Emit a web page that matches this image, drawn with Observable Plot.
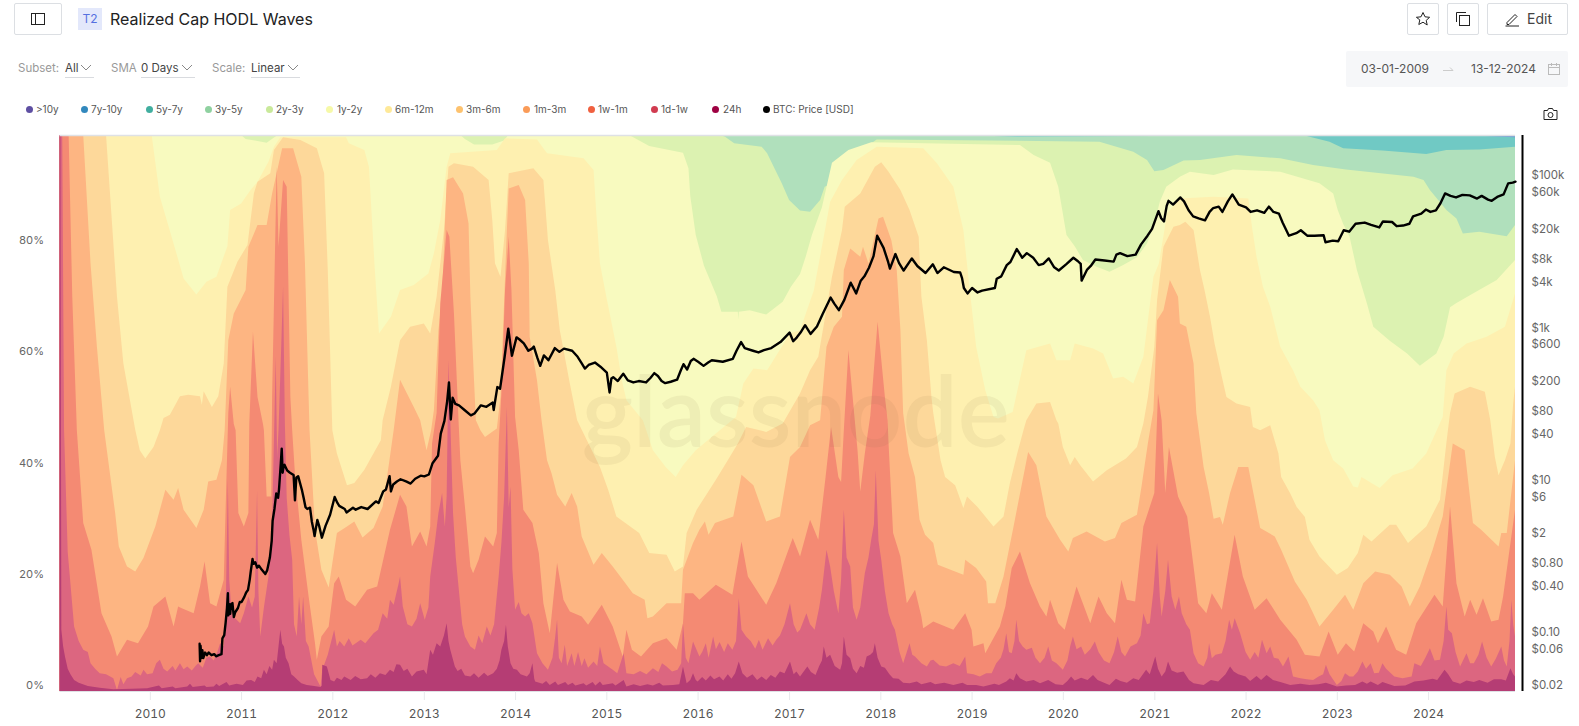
<!DOCTYPE html>
<html><head><meta charset="utf-8">
<script src="https://cdn.jsdelivr.net/npm/d3@7"></script>
<script src="https://cdn.jsdelivr.net/npm/@observablehq/plot@0.6"></script>
<style>
html,body{margin:0;padding:0;background:#fff;font-family:Inter,"Noto Sans",sans-serif;color:#333}
#page{position:relative;width:1579px;height:726px;overflow:hidden}
.abs{position:absolute;white-space:nowrap}
.btn{position:absolute;border:1px solid #dcdfe3;border-radius:2px;box-sizing:border-box;background:#fff}
.lg{position:absolute;top:103px;font-size:10px;line-height:12px;color:#555}
.dot{position:absolute;top:105.5px;width:7px;height:7px;border-radius:50%}
.f{position:absolute;top:60px;font-size:11.5px;line-height:16px}
.ul{position:absolute;top:77px;height:1px;background:#d9dbdf}
.layer{position:absolute;left:0;top:120px;width:1579px;height:606px}
.layer svg{position:absolute;left:0;top:0;background:none;max-width:none}
</style></head><body>
<div id="page">
  <div class="btn" style="left:14px;top:3px;width:48px;height:32px"></div>
  <svg class="abs" style="left:31px;top:12px" width="14" height="14" fill="none" stroke="#222"><rect x="0.5" y="1.5" width="13" height="11"/><path d="M4.5 1.5v11"/></svg>
  <div class="abs" style="left:78px;top:8px;width:24px;height:22px;background:#e3e8fb;color:#5570e0;font-size:12px;line-height:22px;text-align:center">T2</div>
  <div class="abs" style="left:110px;top:8px;font-size:16px;line-height:22px;color:#222">Realized Cap HODL Waves</div>
  <div class="btn" style="left:1407px;top:3px;width:32px;height:32px"></div>
  <svg class="abs" style="left:1415px;top:11px" width="16" height="16" fill="none" stroke="#222"><path d="M8 1.5l2 4.3 4.6.5-3.4 3.1 1 4.6L8 11.2l-4.200 2.300 1-4.600L1.400 6.300l4.600-.5z"/></svg>
  <div class="btn" style="left:1447px;top:3px;width:32px;height:32px"></div>
  <svg class="abs" style="left:1455px;top:11px" width="16" height="16" fill="none" stroke="#222"><rect x="4.500" y="4.500" width="10" height="10"/><path d="M1.500 11V1.500H11"/></svg>
  <div class="btn" style="left:1487px;top:3px;width:81px;height:32px"></div>
  <svg class="abs" style="left:1504px;top:11px" width="16" height="16" fill="none" stroke="#222"><path d="M3 11.500L11 3.500l2 2-8 8H3zM1.500 15H15"/></svg>
  <div class="abs" style="left:1527px;top:10px;font-size:14px;line-height:18px;color:#444">Edit</div>

  <div class="f" style="left:18px;color:#999">Subset:</div><div class="f" style="left:65px;color:#444">All</div>
  <div class="f" style="left:111px;color:#999">SMA</div><div class="f" style="left:141px;color:#444">0 Days</div>
  <div class="f" style="left:212px;color:#999">Scale:</div><div class="f" style="left:251px;color:#444">Linear</div>
  <div class="ul" style="left:65px;width:29px"></div><div class="ul" style="left:141px;width:54px"></div><div class="ul" style="left:251px;width:49px"></div>
  <svg class="abs" style="left:0;top:62px" width="310" height="12" fill="none" stroke="#888"><path d="M81 3l5 5 5-5M182 3l5 5 5-5M288 3l5 5 5-5"/></svg>

  <div class="abs" style="left:1346px;top:51px;width:222px;height:36px;background:#f6f7f9;border-radius:2px"></div>
  <div class="abs" style="left:1361px;top:61px;font-size:12px;line-height:16px;color:#555">03-01-2009</div>
  <div class="abs" style="left:1471px;top:61px;font-size:12px;line-height:16px;color:#555">13-12-2024</div>
  <svg class="abs" style="left:1437px;top:64px" width="40" height="10" fill="none" stroke="#ccc"><path d="M6 6.500h10l-3-3"/></svg>
  <svg class="abs" style="left:1547px;top:62px" width="14" height="14" fill="none" stroke="#bbb"><rect x="1.500" y="2.500" width="11" height="10"/><path d="M1.500 5.500h11M4.500 1v3M9.500 1v3"/></svg>
  <svg class="abs" style="left:1543px;top:107px" width="15" height="14" fill="none" stroke="#222"><path d="M1 3.500h3.500l1-2h4l1 2H14v9H1z"/><circle cx="7.500" cy="8" r="2.500"/></svg>

  <div id="legend"></div>
  <div id="chart" class="layer"></div>
  <div id="price" class="layer"></div>
</div>
<script>
// ---------- legend ----------
const seriesNames = [">10y","7y-10y","5y-7y","3y-5y","2y-3y","1y-2y","6m-12m","3m-6m","1m-3m","1w-1m","1d-1w","24h","BTC: Price [USD]"];
const legendColors = ["#5e4fa2","#3288bd","#41ae9f","#8fd1a0","#c9e99a","#f6f9a8","#fee999","#fdc26e","#fa9b58","#f0603f","#d13b50","#9e0142","#000000"];
const bandFills = ["#7c6fb6","#6b97d0","#70c9c4","#b0e0bc","#dcf2b1","#f8fabf","#fef0b0","#fdd89a","#fdb582","#f48a73","#dc6680","#b53d74"];

// ---------- cumulative share of realized cap at the top of each band: year, percent ----------
const top10yPlus = [2009.01,100, 2024.95,100];
const top7y10y = [2009.01,100, 2024.6,100, 2024.95,99.9];
const top5y7y = [2009.01,100, 2024.4,100, 2024.5,99.9, 2024.95,99.6];
const top3y5y = [2009.01,100, 2018.9,100, 2019.5,99.7, 2021,99.8, 2022.67,99.8, 2022.92,98.8, 2023.07,97.6, 2023.5,97.2, 2023.98,96.6, 2024.2,97.3, 2024.56,97.4, 2024.95,97.9];
const top2y3y = [2009.01,100, 2016.25,100, 2016.3,99.7, 2016.4,98.5, 2016.7,97.9, 2016.76,96.7, 2016.92,91.3, 2017,88.3, 2017.12,86.4, 2017.23,86.2, 2017.34,88.3, 2017.39,90.7, 2017.56,91.9, 2017.6,94.3, 2017.74,96.7, 2017.96,99.2, 2020.4,98.8, 2020.77,97, 2020.92,95.5, 2021,93.5, 2021.1,93.7, 2021.32,95.4, 2021.5,95.5, 2021.9,96.4, 2022.38,95.8, 2022.74,94.6, 2023.1,93.8, 2023.84,92.5, 2023.95,91.9, 2024.02,90.1, 2024.11,88.3, 2024.2,86.5, 2024.31,85, 2024.38,82.3, 2024.56,82.6, 2024.86,81.8, 2024.95,83.8];
const top1y2y = [2009.01,100, 2011,100, 2011.05,99.3, 2011.15,99, 2011.28,98.6, 2011.33,99.2, 2011.4,100, 2013.4,100, 2013.45,99.3, 2013.55,98.3, 2013.75,98.3, 2013.88,99, 2013.92,99.9, 2015.25,100, 2015.47,98, 2015.84,96.8, 2015.9,94, 2015.92,89, 2015.98,82, 2016.07,76.5, 2016.21,71, 2016.26,68.2, 2016.44,68.2, 2016.445,66.8, 2016.45,68.2, 2016.57,68.5, 2016.75,67.7, 2016.93,70, 2017.02,72.7, 2017.12,75, 2017.18,78, 2017.25,82, 2017.36,87, 2017.47,95, 2017.65,97.3, 2017.9,98.7, 2019.53,98.2, 2019.68,96.4, 2019.86,95, 2019.95,90.7, 2020,85.9, 2020.04,82, 2020.13,80, 2020.22,77.5, 2020.37,76.3, 2020.51,75.4, 2020.66,76.6, 2020.81,78, 2020.92,80.5, 2021,84, 2021.06,88, 2021.13,90.7, 2021.28,92.5, 2021.39,93.4, 2021.65,92.8, 2021.86,93.8, 2022.38,93.4, 2022.81,91.3, 2022.96,89.5, 2023.01,86.5, 2023.07,84, 2023.14,81.7, 2023.22,75.7, 2023.33,69.7, 2023.4,65.5, 2023.58,63, 2023.77,60.7, 2023.91,58.5, 2024.09,60.7, 2024.17,63.7, 2024.24,69, 2024.31,69.8, 2024.49,71.5, 2024.75,73.9, 2024.95,77.5];
const top6m12m = [2009.01,100, 2010.02,100, 2010.11,88.9, 2010.26,80.5, 2010.37,74.2, 2010.51,71.3, 2010.62,73.6, 2010.73,74.5, 2010.85,80, 2010.88,86.5, 2011,87.7, 2011.1,90, 2011.18,91.6, 2011.3,95.2, 2011.36,97.9, 2011.43,99.6, 2012.15,99.6, 2012.18,98.5, 2012.35,97.3, 2012.4,94.3, 2012.46,76.9, 2012.51,64.3, 2012.64,67.3, 2012.74,72.1, 2012.89,73, 2013.05,75.1, 2013.11,78.7, 2013.18,84.7, 2013.25,94.3, 2013.29,96.7, 2013.8,97.3, 2013.89,99.4, 2014.24,99.2, 2014.35,96.7, 2014.75,95.8, 2014.86,93.7, 2014.89,85.9, 2014.93,76.9, 2015,70.9, 2015.11,61.9, 2015.17,55.9, 2015.22,52.3, 2015.4,48.7, 2015.51,43.3, 2015.65,40.3, 2015.76,38.5, 2015.84,40.6, 2015.98,43.3, 2016.2,46.3, 2016.42,49.3, 2016.5,55.3, 2016.61,58, 2016.76,57.7, 2017.01,64.3, 2017.12,64.9, 2017.27,72, 2017.38,81.7, 2017.45,88, 2017.58,91.9, 2017.74,95.5, 2017.96,97.9, 2018.47,97.6, 2018.62,94.9, 2018.8,90.7, 2018.91,82.9, 2018.98,72.1, 2019.05,61.9, 2019.15,54.1, 2019.24,49.3, 2019.29,49, 2019.45,50.2, 2019.6,61.3, 2019.86,62.5, 2019.93,59.5, 2020.08,59.5, 2020.13,62.5, 2020.33,61.6, 2020.44,60.7, 2020.55,56.2, 2020.66,56.5, 2020.77,55.3, 2020.88,60.1, 2020.99,74.5, 2021.05,76.9, 2021.14,85.9, 2021.28,88.6, 2021.65,88.9, 2022.03,88.6, 2022.07,83.5, 2022.12,78.1, 2022.19,72.7, 2022.27,69.1, 2022.38,61.9, 2022.52,57.7, 2022.6,54.7, 2022.74,52.3, 2022.81,50.5, 2022.87,45.1, 2022.96,41.5, 2023.07,40, 2023.18,36.8, 2023.23,36.6, 2023.27,38.5, 2023.47,36.5, 2023.61,38.8, 2023.83,40, 2023.98,42.7, 2024.16,49.3, 2024.2,57.7, 2024.28,60.7, 2024.42,62.5, 2024.64,63.7, 2024.84,65.5, 2024.95,71.5];
const top3m6m = [2009.01,100, 2009.52,100, 2009.64,70.9, 2009.71,58.9, 2009.84,47, 2009.89,43.3, 2009.95,41.8, 2010.04,43.9, 2010.11,46.9, 2010.15,49.1, 2010.22,49.7, 2010.33,53, 2010.42,53.3, 2010.55,53, 2010.57,51.5, 2010.59,53.9, 2010.68,51.1, 2010.75,53, 2010.81,58.9, 2010.85,72.7, 2010.96,77.2, 2011.07,80.2, 2011.14,89.5, 2011.18,91.6, 2011.32,93.1, 2011.36,97.3, 2011.46,99.6, 2011.65,99.1, 2011.83,97.6, 2011.91,93.1, 2011.95,75.7, 2012,46.9, 2012.05,42.7, 2012.16,37, 2012.24,37.4, 2012.35,39.8, 2012.53,45.1, 2012.55,48.7, 2012.64,54.7, 2012.74,63.1, 2012.85,65.5, 2013,66.1, 2013.07,64.3, 2013.14,70.9, 2013.22,82.9, 2013.27,94.3, 2013.33,94.9, 2013.54,94.3, 2013.71,91.9, 2013.75,84.7, 2013.78,76.9, 2013.84,74.5, 2013.89,82.9, 2013.93,93.1, 2014.2,94, 2014.31,91.9, 2014.36,81.1, 2014.44,72.1, 2014.49,64.9, 2014.6,55.3, 2014.68,48.7, 2014.93,40.3, 2015.02,36.2, 2015.11,31.4, 2015.36,28.4, 2015.47,24.8, 2015.66,24.5, 2015.75,21.5, 2015.84,22.4, 2015.88,28.4, 2015.99,32.6, 2016.2,38, 2016.33,41.5, 2016.44,44.5, 2016.53,47.5, 2016.75,46.6, 2016.93,48.1, 2017.12,53.5, 2017.23,57.7, 2017.32,60.1, 2017.47,74.5, 2017.58,82.9, 2017.61,87.1, 2017.78,89.5, 2017.94,94.3, 2018.01,95.1, 2018.09,93.4, 2018.22,90.1, 2018.32,86.5, 2018.42,81.7, 2018.45,70.9, 2018.51,63.1, 2018.56,52.9, 2018.58,50, 2018.66,41.5, 2018.71,38.5, 2018.82,37, 2018.91,32.9, 2018.95,35, 2019.06,33.2, 2019.24,29.6, 2019.35,31.4, 2019.42,37.4, 2019.5,42.7, 2019.57,47, 2019.6,48.7, 2019.71,51.7, 2019.86,52, 2019.93,48.7, 2019.95,48.1, 2020,43.9, 2020.08,40.6, 2020.13,42.1, 2020.19,40.6, 2020.33,37.7, 2020.48,39.7, 2020.69,41.8, 2020.81,43.9, 2020.88,48.1, 2020.93,52.9, 2021,61.9, 2021.03,70.3, 2021.1,79.9, 2021.21,83.5, 2021.28,83.8, 2021.34,84.4, 2021.43,82.9, 2021.5,75.7, 2021.55,72.1, 2021.61,67.3, 2021.66,62.5, 2021.74,56.5, 2021.79,52.9, 2021.9,51.7, 2022.05,51.1, 2022.08,47.5, 2022.16,46.9, 2022.27,47.8, 2022.36,42.7, 2022.39,38.5, 2022.49,35.5, 2022.56,33.1, 2022.65,31.3, 2022.7,27.2, 2022.81,24.2, 2023,20.9, 2023.12,22.1, 2023.23,24.8, 2023.29,28.1, 2023.38,26.9, 2023.58,29.9, 2023.65,29.9, 2023.78,26.6, 2023.98,29.6, 2024.13,34.4, 2024.2,44.6, 2024.24,50, 2024.29,53.5, 2024.46,54.7, 2024.62,53.8, 2024.68,48.7, 2024.73,42.1, 2024.77,38.8, 2024.84,41.5, 2024.9,44.5, 2024.93,51.7, 2024.95,54.7];
const top1m3m = [2009.01,100, 2009.27,100, 2009.35,76.9, 2009.42,61.9, 2009.5,46.9, 2009.62,32, 2009.66,26, 2009.75,22.4, 2009.84,21.5, 2009.93,23.9, 2010.06,29.6, 2010.17,36.2, 2010.26,34.4, 2010.31,36.5, 2010.37,32.6, 2010.51,29.3, 2010.59,32.6, 2010.64,37.7, 2010.73,38, 2010.79,41.5, 2010.82,46.9, 2010.86,63.1, 2010.92,67.9, 2011.05,72.1, 2011.08,79.9, 2011.18,83.8, 2011.28,83.8, 2011.34,89.5, 2011.45,97.6, 2011.57,97.6, 2011.66,92.5, 2011.7,76.9, 2011.74,52.9, 2011.75,47, 2011.81,29, 2011.88,21.8, 2011.96,18.6, 2012.05,28.4, 2012.16,29.6, 2012.24,30.5, 2012.33,27.6, 2012.45,29.3, 2012.55,33.2, 2012.62,41, 2012.67,46.9, 2012.74,56, 2012.89,51.1, 2012.96,48.7, 2013.03,43.3, 2013.08,46.9, 2013.11,50.5, 2013.16,64.9, 2013.2,70.9, 2013.25,91.9, 2013.32,92.4, 2013.43,89.5, 2013.49,84.1, 2013.51,70.9, 2013.55,55.9, 2013.57,48.7, 2013.62,46.9, 2013.67,45.7, 2013.8,47.2, 2013.84,53, 2013.91,82.9, 2013.93,90.4, 2014.04,91, 2014.11,88.3, 2014.15,76.9, 2014.16,63.7, 2014.24,55.9, 2014.29,48.7, 2014.35,41.5, 2014.4,39.1, 2014.46,35.3, 2014.55,33.2, 2014.62,35.6, 2014.68,33.2, 2014.73,27.8, 2014.86,22.7, 2014.95,24.8, 2015.07,22.4, 2015.18,20, 2015.29,17.6, 2015.42,16.4, 2015.45,13.1, 2015.51,13.4, 2015.66,15.8, 2015.82,15.8, 2015.84,21.8, 2015.95,26.6, 2016.02,29, 2016.08,30.5, 2016.12,28.1, 2016.19,30.2, 2016.39,31.4, 2016.48,38.9, 2016.61,37, 2016.75,30.5, 2016.9,31.4, 2017.01,42.1, 2017.12,43.9, 2017.23,47.8, 2017.34,48.7, 2017.41,61.9, 2017.49,65.5, 2017.58,67.3, 2017.6,75.7, 2017.67,79.6, 2017.78,78.1, 2017.81,79.9, 2017.87,76.9, 2017.98,85, 2018.03,85.3, 2018.12,81.1, 2018.18,75.7, 2018.22,64.9, 2018.25,50, 2018.31,42.7, 2018.38,38.5, 2018.43,30.8, 2018.49,28.1, 2018.58,26.6, 2018.63,22.7, 2018.91,20.9, 2018.93,23.6, 2019.05,22.1, 2019.16,19.7, 2019.18,15.8, 2019.26,15.8, 2019.35,20.6, 2019.46,29.6, 2019.62,43, 2019.71,40.6, 2019.82,31.4, 2019.97,27.2, 2020.06,25.1, 2020.11,27.5, 2020.26,28.7, 2020.46,26.9, 2020.57,27.5, 2020.64,30.2, 2020.81,31.7, 2020.86,36.8, 2020.93,44.6, 2020.99,50.5, 2021.03,66.7, 2021.1,68.5, 2021.17,73.9, 2021.26,70.9, 2021.28,66.1, 2021.35,65.5, 2021.43,58.9, 2021.46,50, 2021.54,40.3, 2021.6,35.6, 2021.65,31, 2021.72,31.3, 2021.75,29.9, 2021.83,35.6, 2021.92,40.3, 2022.03,40.3, 2022.16,29.3, 2022.32,27.8, 2022.39,25.4, 2022.54,19.7, 2022.67,16.4, 2022.81,11.6, 2022.96,14.6, 2023.09,17.3, 2023.18,14.6, 2023.29,19.4, 2023.42,21.5, 2023.58,20.9, 2023.71,18.8, 2023.8,15.2, 2023.91,18.8, 2024.05,25.4, 2024.16,31.4, 2024.27,44.5, 2024.4,43.3, 2024.49,30.2, 2024.58,29, 2024.77,26, 2024.8,28.4, 2024.86,28.4, 2024.95,41.5];
const top1w1m = [2009.01,100, 2009.11,100, 2009.15,70.9, 2009.2,46.9, 2009.27,30.2, 2009.36,25.4, 2009.47,14, 2009.58,9.8, 2009.64,6.2, 2009.75,9.2, 2009.87,8.6, 2009.98,11.6, 2010.04,15.2, 2010.17,17, 2010.26,11.6, 2010.31,15.2, 2010.35,14.9, 2010.48,14, 2010.55,18.8, 2010.6,23.3, 2010.66,15.8, 2010.73,15.2, 2010.81,20, 2010.84,38.5, 2010.86,50, 2010.88,54.7, 2010.92,48, 2010.94,46.9, 2010.97,32, 2011.03,29.6, 2011.08,32, 2011.09,48, 2011.13,64.6, 2011.18,52.9, 2011.24,48, 2011.25,46.9, 2011.28,35, 2011.33,35, 2011.34,53, 2011.39,94.3, 2011.41,79.9, 2011.46,91.9, 2011.5,90.7, 2011.54,52.9, 2011.56,46.9, 2011.59,39.1, 2011.66,27.2, 2011.74,17, 2011.81,8.6, 2011.83,5.6, 2011.88,9.8, 2011.96,11.6, 2012.02,19.4, 2012.07,20.6, 2012.15,16.4, 2012.25,15.2, 2012.38,18.2, 2012.49,18.8, 2012.63,29, 2012.74,35.3, 2012.81,33.2, 2012.87,26, 2012.96,28.7, 2013.03,26, 2013.07,29.6, 2013.09,44.5, 2013.14,50, 2013.18,69.7, 2013.25,82.9, 2013.28,81.7, 2013.33,67.9, 2013.38,48.7, 2013.4,41.5, 2013.45,33.2, 2013.51,22.4, 2013.54,21.2, 2013.6,23.6, 2013.67,27.8, 2013.76,26, 2013.8,28.4, 2013.82,44.5, 2013.85,53.5, 2013.89,72.1, 2013.93,81.7, 2013.96,72.1, 2014,49.3, 2014.04,43.3, 2014.09,32.6, 2014.19,30.2, 2014.26,24.8, 2014.31,15.8, 2014.38,10.4, 2014.46,23, 2014.53,16.4, 2014.6,14.3, 2014.73,13.4, 2014.8,11.9, 2014.95,15.5, 2015.07,11.6, 2015.18,6.2, 2015.22,11, 2015.28,7.4, 2015.38,6.2, 2015.51,8.6, 2015.66,9.5, 2015.77,7.4, 2015.84,12.2, 2015.86,17.6, 2015.95,17.6, 2016.02,16.4, 2016.2,19.1, 2016.38,17.3, 2016.48,26.9, 2016.55,20.6, 2016.75,15.5, 2016.86,19.4, 2017.04,27.5, 2017.12,24.2, 2017.23,30.8, 2017.32,27.2, 2017.4,38.5, 2017.46,47.5, 2017.54,38.5, 2017.57,37.6, 2017.6,46.9, 2017.65,61.3, 2017.72,48.7, 2017.75,43.3, 2017.78,35.9, 2017.83,42.7, 2017.89,49.5, 2017.97,66.4, 2018.05,52.9, 2018.08,48.7, 2018.09,44.5, 2018.14,28.4, 2018.22,24.2, 2018.29,15.8, 2018.38,18.2, 2018.45,13.4, 2018.47,11.3, 2018.58,12.5, 2018.8,11, 2018.93,14, 2019,11, 2019.02,8, 2019.13,8.6, 2019.15,6.8, 2019.22,8.9, 2019.31,11.6, 2019.37,15.2, 2019.44,22.1, 2019.53,25.1, 2019.64,19.4, 2019.75,15.2, 2019.82,13.4, 2019.86,16.4, 2019.95,12.2, 2020.02,11, 2020.15,18.8, 2020.3,12.2, 2020.39,17, 2020.48,14, 2020.57,12.2, 2020.64,20, 2020.7,16.4, 2020.79,16.1, 2020.88,29.6, 2021,35.6, 2021.04,53.5, 2021.08,48.7, 2021.12,35.6, 2021.16,43.9, 2021.26,35, 2021.36,31.4, 2021.43,22.4, 2021.48,15.8, 2021.57,14, 2021.63,17.6, 2021.74,14.6, 2021.88,28.1, 2021.97,20.6, 2022.1,14.6, 2022.23,16.7, 2022.38,12.8, 2022.56,9.2, 2022.65,6.5, 2022.81,6.2, 2022.91,10.7, 2023.01,6.5, 2023.1,8.6, 2023.19,7.1, 2023.29,12.2, 2023.4,10.7, 2023.45,8.6, 2023.54,11.6, 2023.65,7.4, 2023.76,6.5, 2023.87,12.2, 2024.07,17.3, 2024.16,15.2, 2024.24,33.2, 2024.31,19.4, 2024.4,13.4, 2024.46,16.4, 2024.53,13.7, 2024.6,16.7, 2024.69,12.5, 2024.77,12.8, 2024.82,17, 2024.95,32.6];
const top1d1w = [2009.01,100, 2009.04,100, 2009.06,46.9, 2009.1,25, 2009.17,11.6, 2009.22,9, 2009.27,7.4, 2009.32,7, 2009.35,5, 2009.4,4, 2009.45,3.2, 2009.52,3, 2009.6,2.3, 2009.64,0.2, 2009.68,2.5, 2009.71,1.2, 2009.75,2.3, 2009.8,2.6, 2009.84,3.4, 2009.9,2.8, 2009.93,3.8, 2009.97,3, 2010.03,3.2, 2010.07,5, 2010.11,5.6, 2010.15,4, 2010.19,3.5, 2010.25,4.5, 2010.28,3.7, 2010.33,5, 2010.37,3.9, 2010.41,4.4, 2010.46,3.7, 2010.5,4.5, 2010.53,5, 2010.58,4.2, 2010.62,6, 2010.66,6.2, 2010.7,5.5, 2010.74,7, 2010.77,8.6, 2010.81,8, 2010.83,13, 2010.855,38, 2010.87,20, 2010.9,13.4, 2010.94,13, 2010.99,12.2, 2011.03,14, 2011.08,17, 2011.12,15, 2011.15,17, 2011.175,36, 2011.19,18, 2011.21,9.8, 2011.25,15, 2011.3,20.6, 2011.34,30.2, 2011.38,60.1, 2011.395,42, 2011.41,46.9, 2011.44,62, 2011.46,72.7, 2011.48,48, 2011.5,34.7, 2011.53,28, 2011.56,23.6, 2011.58,12, 2011.61,9.8, 2011.635,17, 2011.66,12, 2011.68,17, 2011.71,9, 2011.74,8, 2011.8,3, 2011.87,0.8, 2011.89,3.8, 2011.95,6.5, 2012.02,11, 2012.05,8, 2012.08,9, 2012.13,8, 2012.18,9.5, 2012.22,8.2, 2012.31,9.2, 2012.36,8.6, 2012.45,10.4, 2012.5,11, 2012.55,14, 2012.6,13, 2012.63,16.4, 2012.67,15.5, 2012.72,19, 2012.74,20.6, 2012.77,15.2, 2012.82,12, 2012.87,11.6, 2012.92,13, 2012.96,15.8, 2013.01,12.8, 2013.05,15, 2013.07,20.6, 2013.12,26.6, 2013.16,32, 2013.2,35.6, 2013.23,29.6, 2013.25,35, 2013.27,59.5, 2013.29,48.7, 2013.32,32, 2013.35,24, 2013.38,18.8, 2013.42,12, 2013.45,9.8, 2013.51,8, 2013.56,7.4, 2013.6,10, 2013.64,8.6, 2013.69,11.6, 2013.73,10, 2013.77,12, 2013.82,20.6, 2013.85,26.6, 2013.88,35, 2013.91,51.1, 2013.93,33, 2013.95,36.8, 2013.97,22, 2014,14.6, 2014.04,16, 2014.07,14, 2014.11,13.4, 2014.15,14, 2014.19,12.2, 2014.24,6.8, 2014.3,5, 2014.36,3.8, 2014.41,6, 2014.44,9.8, 2014.46,12.8, 2014.48,6, 2014.51,5, 2014.545,8.3, 2014.57,4.5, 2014.62,6.8, 2014.65,4.5, 2014.69,7, 2014.73,4.5, 2014.76,5.9, 2014.8,4.2, 2014.86,5.3, 2014.9,4.5, 2014.93,8, 2014.97,5, 2015.02,4.4, 2015.07,3.8, 2015.12,3.2, 2015.19,6.8, 2015.22,3.2, 2015.3,3, 2015.37,3.6, 2015.44,3, 2015.51,4.1, 2015.57,3.4, 2015.61,5, 2015.66,4.4, 2015.72,3.5, 2015.78,3.8, 2015.82,5, 2015.84,12.2, 2015.87,6, 2015.9,5, 2015.95,8.9, 2016.02,6.2, 2016.05,7, 2016.09,8.6, 2016.12,6, 2016.17,9.8, 2016.2,7.5, 2016.24,8.8, 2016.29,7, 2016.33,8.6, 2016.38,7.4, 2016.42,9, 2016.45,16.7, 2016.48,11, 2016.53,9.8, 2016.58,9, 2016.63,7.6, 2016.67,9.2, 2016.71,7.4, 2016.77,9.5, 2016.82,8.2, 2016.86,9.2, 2016.9,10, 2016.95,12, 2017.01,15.8, 2017.05,12, 2017.09,10.5, 2017.12,11, 2017.19,14, 2017.23,12, 2017.28,11, 2017.33,15, 2017.36,18.2, 2017.41,25.4, 2017.45,22.4, 2017.49,18, 2017.54,14, 2017.57,20, 2017.6,32.6, 2017.63,24, 2017.67,22.4, 2017.7,15, 2017.74,12.8, 2017.78,15, 2017.83,21.2, 2017.87,24, 2017.9,27.2, 2017.93,30, 2017.95,39.7, 2017.98,27, 2018.01,23.6, 2018.05,18, 2018.09,14, 2018.13,12, 2018.16,11, 2018.21,7, 2018.25,5, 2018.29,7, 2018.32,8.6, 2018.35,6.5, 2018.38,6.2, 2018.45,5, 2018.51,4.4, 2018.55,5.5, 2018.58,5.6, 2018.65,4.6, 2018.72,4.4, 2018.8,5, 2018.87,4.5, 2018.93,6.2, 2018.95,3.2, 2019.02,3, 2019.09,2.6, 2019.16,3.2, 2019.22,3.2, 2019.27,5, 2019.32,6, 2019.35,7.5, 2019.38,10.4, 2019.41,7, 2019.44,6.8, 2019.47,9, 2019.49,12.8, 2019.52,9, 2019.56,8, 2019.6,7.4, 2019.66,7.8, 2019.7,6, 2019.75,5, 2019.8,6, 2019.84,8, 2019.88,5.5, 2019.93,5, 2020,3.8, 2020.05,5.5, 2020.08,8, 2020.11,9.8, 2020.15,7.5, 2020.2,8, 2020.24,6.5, 2020.3,7.5, 2020.35,8.9, 2020.39,7, 2020.45,5.5, 2020.51,5, 2020.56,7, 2020.6,9.8, 2020.64,7, 2020.68,6.2, 2020.74,8, 2020.81,8.6, 2020.85,10, 2020.88,14, 2020.92,12, 2020.95,12.2, 2020.99,18, 2021.03,26.6, 2021.06,17, 2021.08,13.4, 2021.12,18, 2021.15,23.6, 2021.19,17, 2021.23,14.6, 2021.27,17, 2021.3,14, 2021.35,12, 2021.39,11, 2021.43,6.8, 2021.48,5, 2021.54,4.4, 2021.58,6, 2021.6,8.6, 2021.63,5.9, 2021.67,6.5, 2021.74,6.8, 2021.78,9, 2021.82,12.8, 2021.85,11, 2021.88,13.1, 2021.94,10.4, 2022,7, 2022.05,5.6, 2022.1,7, 2022.14,6, 2022.18,9.2, 2022.23,6.8, 2022.27,8, 2022.31,6, 2022.36,5.8, 2022.41,4.4, 2022.47,6.2, 2022.52,2.6, 2022.6,2.3, 2022.67,2.1, 2022.74,2, 2022.8,2.6, 2022.85,3, 2022.88,4.7, 2022.92,3, 2023,1.1, 2023.05,1.8, 2023.09,3.2, 2023.14,2.6, 2023.18,2.6, 2023.23,3.5, 2023.28,5.3, 2023.32,4, 2023.37,5, 2023.41,3.2, 2023.46,3.3, 2023.5,5, 2023.54,4, 2023.63,2.6, 2023.72,2.3, 2023.82,2.6, 2023.85,5, 2023.92,4.5, 2023.97,6, 2024.02,7.7, 2024.07,5.5, 2024.13,5.6, 2024.17,9, 2024.2,15.2, 2024.22,11, 2024.26,10.4, 2024.3,7, 2024.35,4.4, 2024.42,6.8, 2024.46,5, 2024.5,5, 2024.55,6.5, 2024.59,8.9, 2024.64,6, 2024.69,4.4, 2024.74,5.8, 2024.8,8, 2024.83,5.5, 2024.86,4.4, 2024.89,9, 2024.91,16.4, 2024.93,12, 2024.95,9.8];
const top24h = [2009.01,100, 2009.02,100, 2009.03,11, 2009.05,8, 2009.07,6.2, 2009.1,4, 2009.13,3, 2009.17,2, 2009.22,1.5, 2009.32,0.9, 2009.45,0.6, 2009.6,0.3, 2009.8,0.4, 2009.97,0.5, 2010.1,1, 2010.13,0.5, 2010.25,0.8, 2010.28,0.5, 2010.41,0.8, 2010.44,1.3, 2010.47,0.7, 2010.6,1, 2010.62,0.7, 2010.7,0.8, 2010.73,1.3, 2010.76,0.9, 2010.84,1.6, 2010.87,1, 2010.95,1.3, 2011.02,1.1, 2011.06,1.9, 2011.11,2, 2011.15,1.6, 2011.18,2.6, 2011.22,2.3, 2011.25,3.8, 2011.28,3, 2011.31,4.5, 2011.34,3.8, 2011.36,5.6, 2011.39,5, 2011.41,8, 2011.43,11, 2011.45,8.5, 2011.47,8, 2011.49,6, 2011.52,5, 2011.55,3, 2011.58,2.6, 2011.62,2, 2011.66,1.4, 2011.72,1.1, 2011.8,0.9, 2011.87,0.7, 2011.885,1, 2011.89,4.7, 2011.94,4.4, 2011.98,2, 2012.02,1.7, 2012.05,2.4, 2012.1,2, 2012.13,2.6, 2012.2,2, 2012.25,2.7, 2012.31,2.1, 2012.38,2.3, 2012.42,3, 2012.47,2.4, 2012.52,3.2, 2012.58,2.9, 2012.63,3.8, 2012.67,3.4, 2012.7,4.8, 2012.74,4.7, 2012.78,3.6, 2012.82,4, 2012.87,2.6, 2012.92,3.5, 2013,3.8, 2013.03,3, 2013.07,7.4, 2013.1,6.5, 2013.14,8.6, 2013.18,8, 2013.22,10, 2013.25,12.2, 2013.27,9, 2013.29,7.4, 2013.34,4.4, 2013.37,3.6, 2013.41,4, 2013.45,2.8, 2013.51,2.6, 2013.55,3.2, 2013.6,2.4, 2013.66,3.3, 2013.7,2.7, 2013.76,3.2, 2013.8,4, 2013.83,5.5, 2013.85,7.4, 2013.88,9, 2013.9,11.9, 2013.92,8, 2013.95,5, 2013.98,4, 2014.02,3.8, 2014.06,3, 2014.13,2.6, 2014.16,3.2, 2014.19,5, 2014.21,2.2, 2014.22,1.7, 2014.3,1.3, 2014.34,1.8, 2014.38,1.1, 2014.44,1.7, 2014.47,1.1, 2014.55,1.6, 2014.58,1.1, 2014.63,1.5, 2014.66,1, 2014.75,1.4, 2014.78,1, 2014.85,1.6, 2014.88,1, 2014.93,1.7, 2014.96,1.1, 2015.07,1.4, 2015.1,1, 2015.19,2, 2015.22,0.8, 2015.3,1.2, 2015.37,0.9, 2015.45,1.2, 2015.51,1, 2015.58,1.5, 2015.62,1, 2015.73,1.1, 2015.8,1.2, 2015.84,4.4, 2015.88,1.4, 2015.92,2, 2015.95,3.2, 2015.98,2, 2016,1.7, 2016.05,2.5, 2016.09,1.9, 2016.14,2.8, 2016.18,2.1, 2016.24,2.6, 2016.28,1.9, 2016.33,3, 2016.37,2.2, 2016.41,3.2, 2016.45,5.3, 2016.49,3.2, 2016.54,2.4, 2016.6,3, 2016.65,2, 2016.7,2.6, 2016.75,2, 2016.8,2.9, 2016.85,2.4, 2016.9,3.5, 2016.95,3.2, 2017.01,5.3, 2017.05,3, 2017.08,3.5, 2017.12,2.6, 2017.2,4.4, 2017.24,3.4, 2017.29,2.9, 2017.33,4.5, 2017.36,5.5, 2017.38,8, 2017.41,6, 2017.45,6.5, 2017.5,4.5, 2017.56,3.8, 2017.58,5, 2017.6,9.8, 2017.63,6.5, 2017.67,5.9, 2017.7,4, 2017.74,3.2, 2017.78,4.5, 2017.82,4.2, 2017.85,6.2, 2017.89,6.5, 2017.92,7, 2017.94,8.6, 2017.97,6, 2018.01,4.4, 2018.05,4.2, 2018.1,3, 2018.14,2.3, 2018.2,2.2, 2018.25,1.5, 2018.32,1.4, 2018.4,1.7, 2018.45,1.2, 2018.55,1.6, 2018.6,1.2, 2018.7,1.5, 2018.8,1.1, 2018.9,1.5, 2018.95,1.1, 2019.05,1.1, 2019.13,0.8, 2019.25,1.3, 2019.3,1.1, 2019.38,1.7, 2019.42,2.3, 2019.46,1.9, 2019.49,3.2, 2019.53,2.3, 2019.6,1.7, 2019.68,2, 2019.75,1.4, 2019.84,2, 2019.92,1.2, 2020,1.1, 2020.05,1.8, 2020.09,2.6, 2020.13,1.9, 2020.2,2.4, 2020.27,2, 2020.33,2.9, 2020.38,2, 2020.45,1.5, 2020.51,1.1, 2020.58,2.2, 2020.63,1.8, 2020.7,1.5, 2020.77,2.3, 2020.83,2, 2020.91,3.8, 2020.95,3, 2021.01,6.2, 2021.04,4, 2021.08,2.6, 2021.12,3.5, 2021.15,5.3, 2021.19,3.7, 2021.25,3.3, 2021.32,3.5, 2021.38,2, 2021.43,1.4, 2021.54,1.1, 2021.62,2, 2021.7,1.7, 2021.78,3, 2021.83,4.4, 2021.87,3.5, 2021.92,3, 2022,2.6, 2022.05,1.8, 2022.12,2.7, 2022.17,2, 2022.23,2.9, 2022.3,2, 2022.38,1.6, 2022.49,1.1, 2022.6,1.3, 2022.7,1.1, 2022.8,1.2, 2022.88,1.5, 2022.93,1.2, 2023,0.8, 2023.1,1, 2023.2,1.1, 2023.28,1.7, 2023.33,1.3, 2023.37,1.7, 2023.45,1.1, 2023.5,1.6, 2023.63,0.9, 2023.75,1, 2023.85,1.7, 2023.95,1.9, 2024.05,2.2, 2024.1,2, 2024.18,3.8, 2024.22,3, 2024.27,1.7, 2024.35,1.3, 2024.42,1.9, 2024.5,1.6, 2024.56,2, 2024.65,1.5, 2024.72,2.1, 2024.8,2.1, 2024.85,1.9, 2024.9,4.1, 2024.93,3, 2024.95,2.6];
const bandTops = [top10yPlus,top7y10y,top5y7y,top3y5y,top2y3y,top1y2y,top6m12m,top3m6m,top1m3m,top1w1m,top1d1w,top24h];

// ---------- BTC price: year, USD ----------
const btcPrice = [2010.54,0.085, 2010.545,0.05, 2010.55,0.08, 2010.56,0.055, 2010.57,0.07, 2010.58,0.055, 2010.6,0.065, 2010.62,0.06, 2010.64,0.065, 2010.67,0.06, 2010.7,0.062, 2010.72,0.058, 2010.75,0.06, 2010.78,0.062, 2010.79,0.1, 2010.81,0.11, 2010.825,0.16, 2010.84,0.25, 2010.85,0.39, 2010.855,0.2, 2010.865,0.28, 2010.875,0.21, 2010.885,0.28, 2010.9,0.29, 2010.915,0.19, 2010.93,0.22, 2010.96,0.25, 2010.98,0.3, 2011,0.3, 2011.03,0.35, 2011.05,0.4, 2011.07,0.43, 2011.09,0.6, 2011.1,0.75, 2011.12,1.1, 2011.13,0.95, 2011.15,1, 2011.17,0.85, 2011.19,0.9, 2011.22,0.8, 2011.26,0.7, 2011.28,0.78, 2011.31,1.15, 2011.33,1.9, 2011.34,3.5, 2011.36,5, 2011.38,8, 2011.4,7, 2011.41,9, 2011.43,20, 2011.44,31, 2011.45,15, 2011.46,18, 2011.47,19, 2011.5,16, 2011.53,15, 2011.57,14, 2011.585,6.5, 2011.6,13, 2011.62,13.5, 2011.64,11, 2011.66,9, 2011.68,7, 2011.7,5.3, 2011.72,5, 2011.75,5.2, 2011.77,3.4, 2011.79,2.6, 2011.8,2.2, 2011.83,3.6, 2011.85,3, 2011.88,2.1, 2011.92,3, 2011.97,4.2, 2012.02,7.2, 2012.05,6, 2012.07,5.5, 2012.13,5, 2012.15,4.5, 2012.22,5.2, 2012.25,4.9, 2012.31,5.3, 2012.38,5, 2012.47,6.3, 2012.5,6, 2012.55,8.5, 2012.58,9, 2012.62,13.5, 2012.635,8.5, 2012.66,10.5, 2012.7,11.5, 2012.74,12.3, 2012.8,11.5, 2012.85,10.8, 2012.9,12.5, 2012.96,13.7, 2013,13.4, 2013.05,14.2, 2013.09,20, 2013.15,25, 2013.18,49, 2013.22,72, 2013.25,130, 2013.27,230, 2013.29,75, 2013.31,145, 2013.34,120, 2013.38,115, 2013.44,100, 2013.51,85, 2013.55,90, 2013.62,115, 2013.68,110, 2013.75,125, 2013.76,100, 2013.8,200, 2013.83,190, 2013.88,500, 2013.92,1170, 2013.96,515, 2014.01,900, 2014.04,850, 2014.09,750, 2014.14,600, 2014.18,640, 2014.2,680, 2014.24,480, 2014.27,380, 2014.31,520, 2014.34,480, 2014.36,450, 2014.43,650, 2014.48,580, 2014.53,640, 2014.62,600, 2014.68,500, 2014.72,420, 2014.76,350, 2014.8,390, 2014.87,420, 2014.93,370, 2015,310, 2015.03,170, 2015.05,260, 2015.07,270, 2015.12,240, 2015.18,300, 2015.23,245, 2015.29,230, 2015.35,240, 2015.43,230, 2015.48,265, 2015.52,305, 2015.56,280, 2015.6,240, 2015.64,225, 2015.7,235, 2015.77,250, 2015.81,330, 2015.84,400, 2015.88,340, 2015.92,440, 2015.95,470, 2016,430, 2016.06,380, 2016.11,420, 2016.15,450, 2016.27,430, 2016.38,470, 2016.42,600, 2016.47,780, 2016.51,650, 2016.6,600, 2016.66,570, 2016.72,610, 2016.8,650, 2016.9,780, 2017,1040, 2017.04,800, 2017.08,900, 2017.12,1040, 2017.17,1300, 2017.23,1000, 2017.3,1250, 2017.36,1800, 2017.45,3000, 2017.49,2500, 2017.54,2050, 2017.6,2800, 2017.67,4700, 2017.73,3400, 2017.78,5000, 2017.82,5700, 2017.87,7400, 2017.92,10500, 2017.96,19500, 2018.03,13500, 2018.08,8800, 2018.1,7200, 2018.16,11200, 2018.2,8500, 2018.25,6800, 2018.34,9800, 2018.4,7800, 2018.49,6300, 2018.57,8200, 2018.62,6300, 2018.69,7500, 2018.8,6500, 2018.87,6400, 2018.89,5400, 2018.91,4000, 2018.95,3400, 2019,4000, 2019.06,3500, 2019.11,3700, 2019.25,4000, 2019.27,5300, 2019.32,5700, 2019.38,8000, 2019.42,8800, 2019.49,13000, 2019.55,10000, 2019.6,11500, 2019.67,10000, 2019.73,8000, 2019.78,8300, 2019.84,9800, 2019.9,7500, 2019.95,6800, 2020.03,8200, 2020.11,10000, 2020.16,9000, 2020.19,8300, 2020.2,5000, 2020.26,7000, 2020.3,7800, 2020.35,9500, 2020.45,9200, 2020.55,8900, 2020.58,11000, 2020.62,11500, 2020.7,10500, 2020.79,11000, 2020.85,15000, 2020.92,19500, 2020.97,24000, 2021.04,41000, 2021.07,33000, 2021.1,30000, 2021.13,48000, 2021.15,56000, 2021.2,50000, 2021.28,62000, 2021.32,55000, 2021.37,42000, 2021.42,35000, 2021.48,33000, 2021.55,31000, 2021.6,40000, 2021.64,45000, 2021.7,47000, 2021.74,40000, 2021.8,55000, 2021.85,68000, 2021.92,50000, 2022,46000, 2022.05,40000, 2022.12,42000, 2022.2,39000, 2022.25,47000, 2022.3,40000, 2022.36,38000, 2022.4,29000, 2022.47,19500, 2022.55,21000, 2022.6,23000, 2022.67,19500, 2022.75,19500, 2022.85,19800, 2022.87,16000, 2022.95,16800, 2023.01,16500, 2023.07,23000, 2023.13,22000, 2023.2,28000, 2023.3,29000, 2023.37,27000, 2023.46,25000, 2023.5,30000, 2023.6,29500, 2023.65,26000, 2023.72,26500, 2023.79,28000, 2023.83,35000, 2023.92,38000, 2023.97,43000, 2024.02,40000, 2024.08,42000, 2024.13,52000, 2024.18,70000, 2024.24,65000, 2024.3,62000, 2024.37,67000, 2024.45,66000, 2024.53,60000, 2024.58,65000, 2024.65,58000, 2024.69,56000, 2024.75,63000, 2024.82,68000, 2024.87,95000, 2024.92,97000, 2024.95,100000];

// ---------- tick labels ----------
const tickYears = [2010,2011,2012,2013,2014,2015,2016,2017,2018,2019,2020,2021,2022,2023,2024];
const shareTicks = [0,20,40,60,80];
const priceTicks = [100000,60000,20000,8000,4000,1000,600,200,80,40,10,6,2,0.8,0.4,0.1,0.06,0.02];

// ---------- helpers ----------
const toDate = y => { const Y = Math.floor(y); const a = Date.UTC(Y,0,1), b = Date.UTC(Y+1,0,1); return new Date(a + (y-Y)*(b-a)); };
const rows = (flat, key) => d3.range(0, flat.length, 2).map(i => ({t: toDate(flat[i]), [key]: flat[i+1]}));
const xDomain = [toDate(2009.01), toDate(2024.95)];
const W = 1579, H = 606, mt = 15, mb = 35, ml = 59.5, mr = 64;
const font = "Inter, 'Noto Sans', sans-serif";
const frame = {width:W, height:H, marginTop:mt, marginBottom:mb, marginLeft:ml, marginRight:mr, style:{fontFamily:font, background:"none", overflow:"visible"}};

// legend
const dotX = [29,84,149,208,269,329,388,459,526,591,654,715,766];
const labelX = [36,91,156,215,276,337,395,466,534,598,661,723,773];
const lg = document.getElementById("legend");
seriesNames.forEach((n,i)=>{
  const d = document.createElement("div"); d.className="dot"; d.style.left=(dotX[i]-3.5)+"px"; d.style.background=legendColors[i]; lg.appendChild(d);
  const t = document.createElement("div"); t.className="lg"; t.style.left=labelX[i]+"px"; t.textContent=n; lg.appendChild(t);
});

// ---------- bands and percent axis ----------
const chart = Plot.plot({...frame,
  x:{type:"utc", domain:xDomain, label:null},
  y:{domain:[0,100], label:null},
  marks:[
    ...bandTops.map((flat,i)=>Plot.areaY(rows(flat,"v"),{x:"t", y:"v", fill:bandFills[i], curve:"linear"})),
    Plot.text(["glassnode"],{frameAnchor:"middle", dx:8, dy:2, fontSize:98, fontWeight:600, fontFamily:"Lato, Inter, sans-serif", fill:"#7a6a40", fillOpacity:0.08}),
    Plot.ruleY([0],{stroke:"#dfe1e5"}),
    Plot.ruleY([100],{stroke:"#dfe1e5", strokeWidth:1.5}),
    Plot.axisX({ticks:tickYears.map(y=>toDate(y)), tickFormat:d3.utcFormat("%Y"), tickSize:9, tickPadding:9, stroke:"#e8e9ec", fill:"#555", fontSize:12, label:null}),
    Plot.axisY({ticks:shareTicks, tickFormat:d=>d+"%", tickSize:0, tickPadding:16, dy:-6, fill:"#666", fontSize:11, label:null})
  ]});
document.getElementById("chart").appendChild(chart);

// ---------- BTC price on its own log axis ----------
const fmtPrice = d => d>=1000 ? "$"+d/1000+"k" : d<1 ? "$"+d.toFixed(2) : "$"+d;
const price = Plot.plot({...frame,
  x:{type:"utc", domain:xDomain, label:null, axis:null},
  y:{type:"log", domain:[0.02,404000], label:null, axis:null},
  marks:[
    Plot.line(rows(btcPrice,"p"),{x:"t", y:"p", stroke:"#000", strokeWidth:2.4, strokeLinejoin:"round"}),
    Plot.ruleX([xDomain[1]],{dx:7, stroke:"#000", strokeWidth:2}),
    Plot.text(priceTicks,{y:d=>d, text:fmtPrice, frameAnchor:"right", textAnchor:"start", dx:16, dy:-6, fill:"#666", fontSize:11.5})
  ]});
document.getElementById("price").appendChild(price);
</script>
</body></html>
